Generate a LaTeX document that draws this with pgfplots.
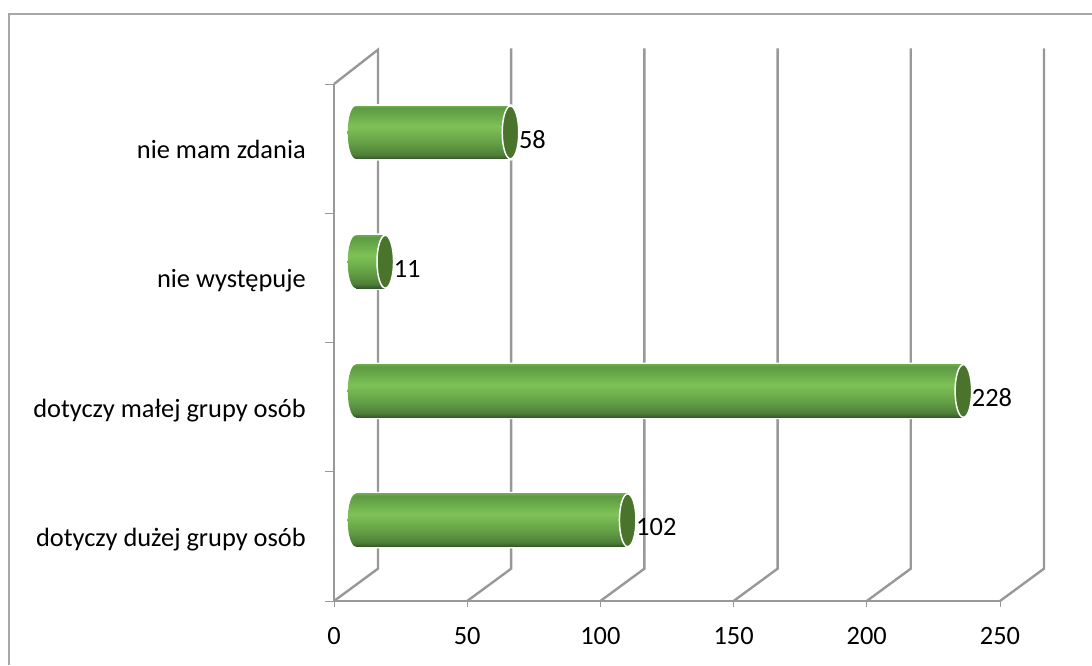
\documentclass[border=0pt]{standalone}
\usepackage{fontspec}
\setmainfont{Carlito}
\usepackage{pgfplots}
\usepackage{pgfplotstable}
\pgfplotsset{compat=1.18}
\definecolor{gridgray}{HTML}{989898}
\definecolor{endgreen}{HTML}{4A732C}
\definecolor{c0}{HTML}{35552A}
\definecolor{c1}{HTML}{4E7F38}
\definecolor{c2}{HTML}{64A046}
\definecolor{c3}{HTML}{7EC257}
\definecolor{c4}{HTML}{6AAA4A}
\definecolor{c5}{HTML}{5E9A44}
\pgfdeclareverticalshading{cyl}{100bp}{color(0bp)=(c0); color(25bp)=(c0); color(29bp)=(c1); color(40bp)=(c2); color(56bp)=(c3); color(66bp)=(c4); color(73bp)=(c5); color(75bp)=(c4); color(100bp)=(c4)}
\pgfdeclareplotmark{capleft}{\shade[shading=cyl,draw=none] (0.6pt,19.8pt) -- (0pt,19.8pt) arc[start angle=90,end angle=270,x radius=6.2pt,y radius=19.8pt] -- (0.6pt,-19.8pt) -- cycle;}
\pgfdeclareplotmark{capwhite}{\fill[white,draw=none] (0pt,21.2pt) arc[start angle=90,end angle=-90,x radius=7.6pt,y radius=21.2pt] -- cycle;}
\pgfdeclareplotmark{capright}{\filldraw[fill=endgreen,draw=white,line width=1.1pt] (0pt,0pt) ellipse (6.2pt and 19.8pt);}
\pgfplotstableread{
y v
0.625 102
1.625 228
2.625 11
3.625 58
}\bars
\begin{document}
\begin{tikzpicture}[x=1pt,y=1pt]
\begin{axis}[
  scale only axis, width=499.5pt, height=387.75pt,
  clip=false,
  xmin=-8.25, xmax=241.75, ymin=0, ymax=4,
  axis x line*=bottom, axis y line*=left,
  axis line style={gridgray, line width=1.8pt, -},
  tick align=outside,
  major tick length=4.5pt, minor tick length=6.5pt,
  xtick={-8.25,41.75,91.75,141.75,191.75,241.75},
  xticklabels={0,50,100,150,200,250},
  ytick={0.5,1.5,2.5,3.5},
  yticklabels={dotyczy dużej grupy osób,dotyczy małej grupy osób,nie występuje,nie mam zdania},
  minor ytick={0,1,2,3,4},
  major y tick style={draw=none},
  minor y tick style={gridgray, line width=0.6pt},
  major x tick style={gridgray, line width=0.6pt},
  tick label style={font=\fontsize{19.8}{24}\selectfont, text=black},
  yticklabel style={inner sep=0pt, xshift=-16.5pt, yshift=-3pt, text height=13pt, text depth=4pt, anchor=east},
  xticklabel style={inner sep=0pt, yshift=-15pt, text height=13pt, text depth=0pt},
  /pgf/number format/assume math mode=true,
]
% grid: front foot, back wall
\addplot[gridgray,line width=1.8pt] coordinates {(-8.25,4)(8.25,4.265)(8.25,0.25)(-8.25,0)};
\addplot[gridgray,line width=1.8pt] coordinates {(41.75,0)(58.25,0.25)(58.25,4.275)};
\addplot[gridgray,line width=1.8pt] coordinates {(91.75,0)(108.25,0.25)(108.25,4.275)};
\addplot[gridgray,line width=1.8pt] coordinates {(141.75,0)(158.25,0.25)(158.25,4.275)};
\addplot[gridgray,line width=1.8pt] coordinates {(191.75,0)(208.25,0.25)(208.25,4.275)};
\addplot[gridgray,line width=1.8pt] coordinates {(241.75,0)(258.25,0.25)(258.25,4.275)};
% white halo
\addplot[xbar, bar shift=0pt, bar width=42.4pt, fill=white, draw=none] table[x=v,y=y] {\bars};
\addplot[only marks, mark=capwhite] table[x=v,y=y] {\bars};
% bars, one plot each so that each has its own shading
\addplot[xbar, bar shift=0pt, bar width=39.6pt, draw=none, shading=cyl] coordinates {(102,0.625)};
\addplot[xbar, bar shift=0pt, bar width=39.6pt, draw=none, shading=cyl] coordinates {(228,1.625)};
\addplot[xbar, bar shift=0pt, bar width=39.6pt, draw=none, shading=cyl] coordinates {(11,2.625)};
\addplot[xbar, bar shift=0pt, bar width=39.6pt, draw=none, shading=cyl] coordinates {(58,3.625)};
% left caps
\addplot[only marks, mark=capleft] coordinates {(0,0.625)(0,1.625)(0,2.625)(0,3.625)};
% end faces and values
\addplot[only marks, mark=capright,
  nodes near coords,
  point meta=x,
  every node near coord/.append style={anchor=west, inner sep=0pt, xshift=6.2pt, yshift=-5.25pt, font=\fontsize{19.8}{24}\selectfont, text=black}]
  table[x=v,y=y] {\bars};
\end{axis}
\draw[color=gridgray!85, line width=1.5pt] (-243.4,-48) -- (-243.4,440.25) -- (569,440.25);
\pgfresetboundingbox
\path (-250.5,-48) rectangle (568.5,450.75);
\end{tikzpicture}
\end{document}
